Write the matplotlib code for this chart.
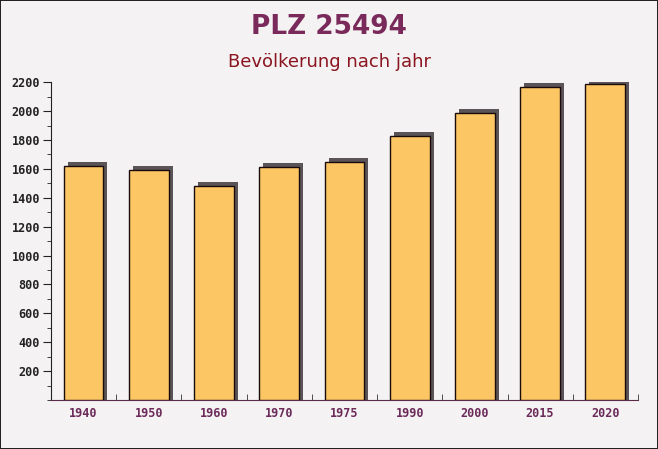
import numpy as np
from matplotlib import pyplot as plt
from matplotlib.transforms import offset_copy
from matplotlib.ticker import MultipleLocator

# Data
years = ['1940', '1950', '1960', '1970', '1975', '1990', '2000', '2015', '2020']
population = [1620, 1592, 1484, 1612, 1647, 1827, 1986, 2168, 2187]

fig = plt.figure(figsize=(6.58, 4.49), dpi=100)
fig.patch.set_facecolor('#f4f2f2')
fig.patch.set_edgecolor('#222222')
fig.patch.set_linewidth(1.2)

ax = fig.add_axes([0.0775, 0.109, 0.892, 0.708])
ax.set_facecolor('none')

x = np.arange(len(years))
width = 0.61

# shadow bars (offset a few pixels right/up, extended below axis so clipping hides the bottom)
shadow = offset_copy(ax.transData, fig=fig, x=4, y=4, units='dots')
ax.bar(x, np.array(population) + 50, width=width, bottom=-50, color='#5a5458',
       transform=shadow, zorder=2, clip_on=True)
# main bars
ax.bar(x, population, width=width, color='#fcc664', edgecolor='#1a0a0a',
       linewidth=1.0, zorder=3)

ax.set_xlim(-0.5, len(years) - 0.5)
ax.set_ylim(0, 2200)

ax.set_xticks(x)
ax.set_xticklabels(years, fontfamily='DejaVu Sans Mono', fontweight='bold',
                   fontsize=8.5, color='#6b2a5a')
ax.xaxis.set_minor_locator(MultipleLocator(0.5))
ax.tick_params(axis='x', which='major', length=0, pad=5)
ax.tick_params(axis='x', which='minor', direction='in', length=4, color='#333333')

ax.set_yticks(np.arange(200, 2201, 200))
ax.yaxis.set_minor_locator(MultipleLocator(100))
ax.tick_params(axis='y', which='major', length=6, color='#222222', pad=2)
ax.tick_params(axis='y', which='minor', length=3, color='#222222')
for lbl in ax.get_yticklabels():
    lbl.set_fontfamily('DejaVu Sans Mono')
    lbl.set_fontweight('bold')
    lbl.set_fontsize(8.5)
    lbl.set_color('#222222')

for side in ['top', 'right']:
    ax.spines[side].set_visible(False)
ax.spines['left'].set_color('#222222')
ax.spines['bottom'].set_color('#5a2a4a')

fig.text(0.5, 0.94, 'PLZ 25494', ha='center', va='center', fontsize=19,
         fontweight='bold', color='#7a2a5a', fontfamily='DejaVu Sans')
fig.text(0.5, 0.862, 'Bevölkerung nach jahr', ha='center', va='center',
         fontsize=13, color='#8b1520', fontfamily='DejaVu Sans')

fig.savefig('out.png', dpi=100, facecolor=fig.get_facecolor(),
            edgecolor=fig.get_edgecolor())
